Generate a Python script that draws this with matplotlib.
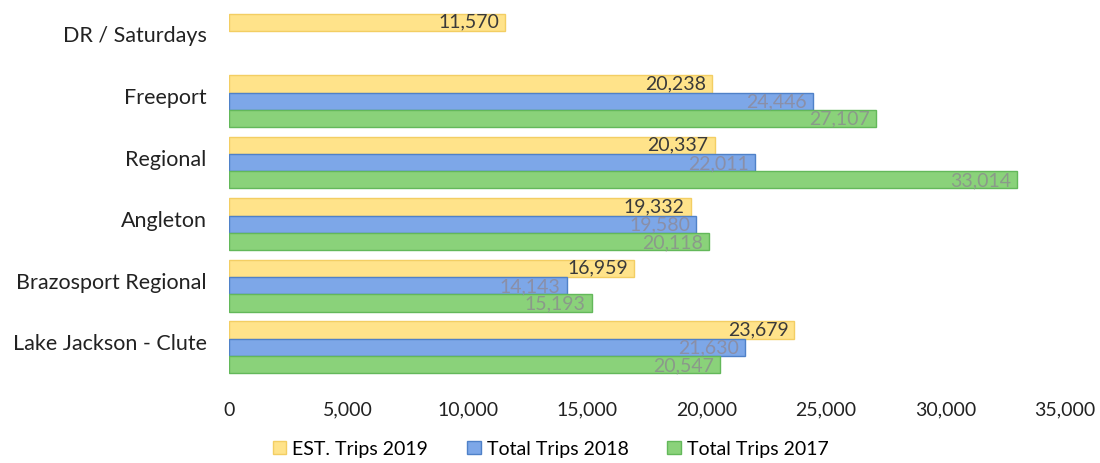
import matplotlib.pyplot as plt
import numpy as np
from matplotlib.ticker import FuncFormatter

plt.rcParams['font.family'] = ['Lato', 'DejaVu Sans']

routes = ['Lake Jackson - Clute', 'Brazosport Regional', 'Angleton',
          'Regional', 'Freeport', 'DR / Saturdays']
est_2019 = [23679, 16959, 19332, 20337, 20238, 11570]
total_2018 = [21630, 14143, 19580, 22011, 24446, np.nan]
total_2017 = [20547, 15193, 20118, 33014, 27107, np.nan]

series = [
    ('EST. Trips 2019', est_2019, '#FFE38A', '#F3CE63', '#3a3a3a'),
    ('Total Trips 2018', total_2018, '#7DA7E8', '#4F81C8', '#8a8fa8'),
    ('Total Trips 2017', total_2017, '#8AD27A', '#63B85A', '#8a9a8a'),
]

fig = plt.figure(figsize=(11, 4.64), dpi=100)
ax = fig.add_axes([0.208, 0.17, 0.76, 0.822])

y = np.arange(len(routes))
h = 0.28
offsets = [h, 0, -h]

for (name, vals, fc, ec, tc), off in zip(series, offsets):
    vals = np.array(vals, dtype=float)
    bars = ax.barh(y + off, vals, height=h, color=fc, edgecolor=ec,
                   linewidth=1.0, label=name)
    for b, v in zip(bars, vals):
        if np.isnan(v):
            continue
        ax.text(v - 250, b.get_y() + b.get_height() / 2 + (0.02 if off > 0 else 0),
                f'{int(v):,}', ha='right', va='center', fontsize=14, color=tc)

ax.set_xlim(0, 35000)
ax.set_ylim(-0.6, 5.6)
ax.set_xticks(np.arange(0, 35001, 5000))
ax.xaxis.set_major_formatter(FuncFormatter(lambda v, p: f'{int(v):,}'))
ax.set_yticks(y + 0.1)
ax.set_yticklabels(routes, fontsize=15.5, color='#222222')
ax.tick_params(axis='x', labelsize=14, colors='#222222', length=0, pad=12)
ax.tick_params(axis='y', length=0, pad=16)
for s in ax.spines.values():
    s.set_visible(False)

ax.legend(loc='center', bbox_to_anchor=(0.385, -0.17), ncol=3,
          frameon=False, fontsize=14, handlelength=0.7, handleheight=0.7,
          handletextpad=0.3, columnspacing=2.0)

fig.savefig('out.png', dpi=100)
